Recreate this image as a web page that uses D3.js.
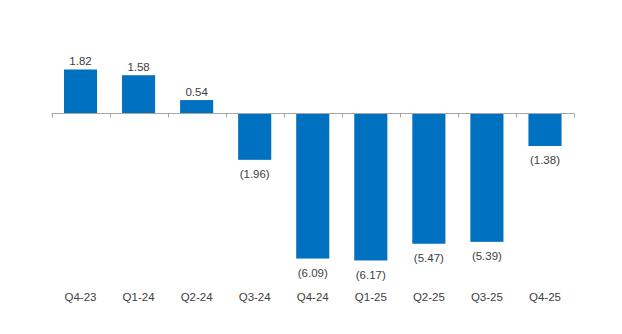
<!DOCTYPE html>
<html>
<head>
<meta charset="utf-8">
<script src="https://cdn.jsdelivr.net/npm/d3@7"></script>
<style>
  html, body { margin: 0; padding: 0; background: #fff; }
  svg { display: block; }
  text { font-family: "Liberation Sans", Arial, sans-serif; font-size: 11.5px; fill: #404040; }
</style>
</head>
<body>
<svg id="chart" width="622" height="334"></svg>
<script>
const categories = ["Q4-23", "Q1-24", "Q2-24", "Q3-24", "Q4-24", "Q1-25", "Q2-25", "Q3-25", "Q4-25"];
const values = [1.82, 1.58, 0.54, -1.96, -6.09, -6.17, -5.47, -5.39, -1.38];
const labels = ["1.82", "1.58", "0.54", "(1.96)", "(6.09)", "(6.17)", "(5.47)", "(5.39)", "(1.38)"];

const svg = d3.select("#chart");

const x = d3.scaleBand()
  .domain(categories)
  .range([51.5, 574])
  .paddingInner(0.43)
  .paddingOuter(0.215);

const y = d3.scaleLinear()
  .domain([-7, 2])
  .range([280.3, 65.2]);

const data = categories.map((c, i) => ({ c, v: values[i], l: labels[i] }));

// bars
svg.append("g").selectAll("rect")
  .data(data)
  .join("rect")
  .attr("x", d => x(d.c))
  .attr("width", x.bandwidth())
  .attr("y", d => y(Math.max(0, d.v)))
  .attr("height", d => Math.abs(y(d.v) - y(0)))
  .attr("fill", "#0070C0");

// axis line and ticks
const step = x.step();
const r = x.range();
const axis = svg.append("g").attr("stroke", "#a6a6a6").attr("stroke-width", 1);
const y0 = Math.round(y(0)) + 0.5;
axis.append("line")
  .attr("x1", r[0]).attr("x2", r[1])
  .attr("y1", y0).attr("y2", y0);
d3.range(categories.length + 1).forEach(i => {
  const tx = Math.round(r[0] + i * step) + 0.5;
  axis.append("line")
    .attr("x1", tx).attr("x2", tx)
    .attr("y1", y0).attr("y2", y0 + 4);
});

// value labels
svg.append("g").selectAll("text")
  .data(data)
  .join("text")
  .attr("x", d => x(d.c) + x.bandwidth() / 2)
  .attr("y", d => d.v >= 0 ? y(d.v) - 4.5 : y(d.v) + 18.5)
  .attr("text-anchor", "middle")
  .text(d => d.l);

// category labels
svg.append("g").selectAll("text")
  .data(categories)
  .join("text")
  .attr("x", d => x(d) + x.bandwidth() / 2)
  .attr("y", 300.8)
  .attr("text-anchor", "middle")
  .text(d => d);
</script>
</body>
</html>
